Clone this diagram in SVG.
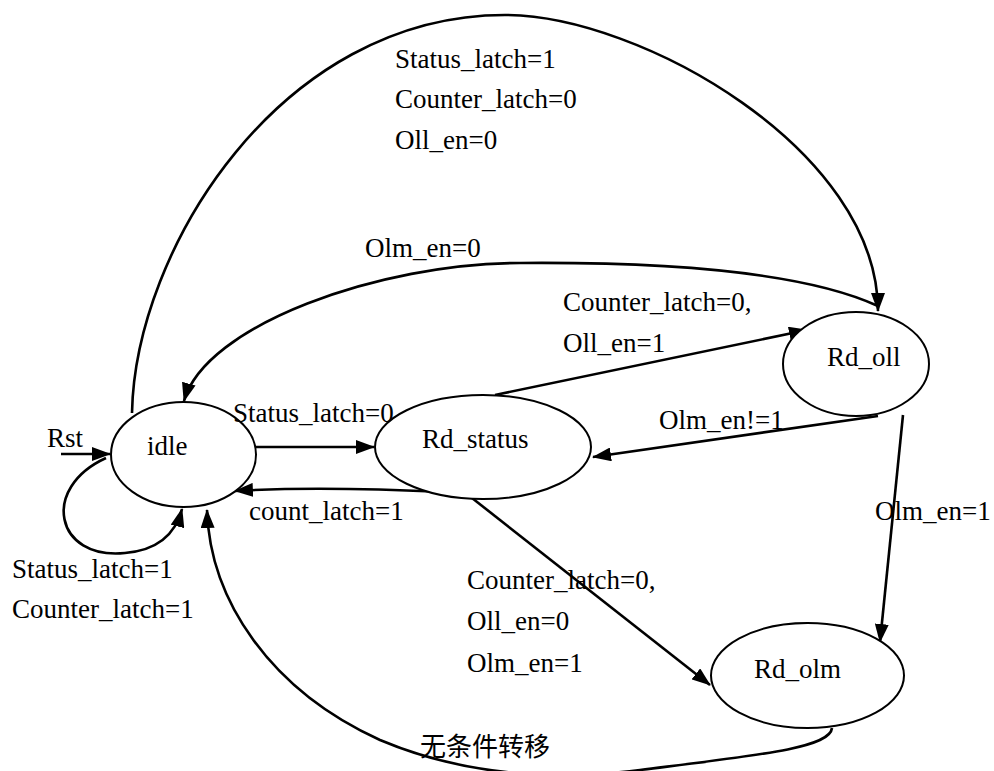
<svg xmlns="http://www.w3.org/2000/svg" width="994" height="771" viewBox="0 0 994 771">
<style>
.node{fill:#fff;stroke:#000;stroke-width:2}
.edge{fill:none;stroke:#000;stroke-width:2.6}
text{font-family:"Liberation Serif","Times New Roman",serif;font-size:27px;fill:#000}
.cjk{font-family:"Noto Sans CJK SC",sans-serif;font-size:26px}
</style>
<defs>
<marker id="ah" viewBox="0 0 19 14" refX="18" refY="7" markerWidth="19" markerHeight="14" orient="auto" markerUnits="userSpaceOnUse">
<path d="M0 0 L19 7 L0 14 z" fill="#000"/>
</marker>
</defs>
<rect width="994" height="771" fill="#fff"/>
<g id="connectors">
<path class="edge" d="M61 454 L110 454" marker-end="url(#ah)"/>
<path class="edge" d="M106 458 C40 488, 55 560, 125 553 C160 550, 176 532, 182 509" marker-end="url(#ah)"/>
<path class="edge" d="M132 413 C135 250, 280 15, 505 15 C640 15, 878 150, 878 311" marker-end="url(#ah)"/>
<path class="edge" d="M878 306 C800 270, 650 262, 520 263 C380 263, 205 325, 184 401" marker-end="url(#ah)"/>
<path class="edge" d="M256 447 L374 447" marker-end="url(#ah)"/>
<path class="edge" d="M456 493 C400 489, 300 487, 235 491" marker-end="url(#ah)"/>
<path class="edge" d="M495 395 L807 330" marker-end="url(#ah)"/>
<path class="edge" d="M878 416 L593 457" marker-end="url(#ah)"/>
<path class="edge" d="M903 415 L880 642" marker-end="url(#ah)"/>
<path class="edge" d="M472 498 L710 685" marker-end="url(#ah)"/>
<path class="edge" d="M832 728 C830 748, 760 755, 640 770 C560 780, 470 778, 380 740 C270 690, 210 600, 207 510" marker-end="url(#ah)"/>
</g>
<g id="idle"><ellipse class="node" cx="183.5" cy="454.5" rx="72.5" ry="52.5"/><text x="147" y="455">idle</text></g>
<g id="Rd_status"><ellipse class="node" cx="483" cy="447" rx="108" ry="52"/><text x="422" y="448">Rd_status</text></g>
<g id="Rd_oll"><ellipse class="node" cx="856" cy="364" rx="73" ry="52"/><text x="827" y="366">Rd_oll</text></g>
<g id="Rd_olm"><ellipse class="node" cx="807.5" cy="675.5" rx="96.5" ry="52.5"/><text x="754" y="678">Rd_olm</text></g>
<g id="labels">
<text x="395" y="68">Status_latch=1</text>
<text x="395" y="108">Counter_latch=0</text>
<text x="395" y="149">Oll_en=0</text>
<text x="365" y="257">Olm_en=0</text>
<text x="563" y="311">Counter_latch=0,</text>
<text x="563" y="352">Oll_en=1</text>
<text x="233" y="422">Status_latch=0</text>
<text x="47" y="447">Rst</text>
<text x="659" y="429">Olm_en!=1</text>
<text x="249" y="520">count_latch=1</text>
<text x="875" y="520">Olm_en=1</text>
<text x="12" y="578">Status_latch=1</text>
<text x="12" y="618">Counter_latch=1</text>
<text x="467" y="589">Counter_latch=0,</text>
<text x="467" y="630">Oll_en=0</text>
<text x="467" y="672">Olm_en=1</text>
<text class="cjk" x="420" y="756">无条件转移</text>
</g>
</svg>
